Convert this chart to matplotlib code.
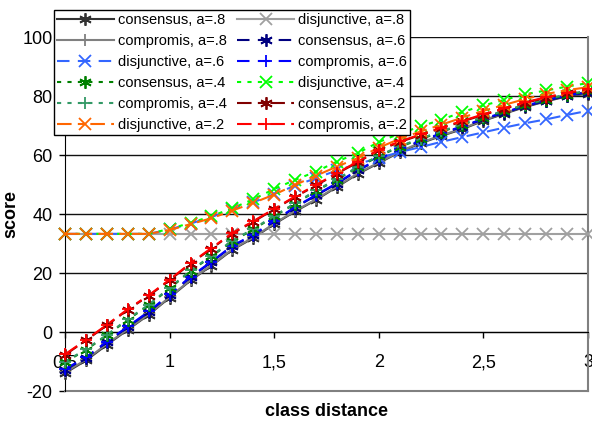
import numpy as np
import matplotlib.pyplot as plt

plt.rcParams['font.family'] = ['Liberation Sans', 'DejaVu Sans']
plt.rcParams['axes.unicode_minus'] = False

# class distance 0.5 .. 3.0
x = [0.5, 0.6, 0.7, 0.8, 0.9, 1.0, 1.1, 1.2, 1.3, 1.4, 1.5, 1.6, 1.7,
     1.8, 1.9, 2.0, 2.1, 2.2, 2.3, 2.4, 2.5, 2.6, 2.7, 2.8, 2.9, 3.0]

cons_8 = [-13.9, -9.6, -4.3, 0.8, 5.9, 11.7, 17.5, 22.5, 27.9, 31.9, 36.6, 40.9, 44.8,
          49.2, 53.6, 57.3, 61.0, 64.0, 66.5, 68.8, 71.6, 74.0, 76.3, 78.2, 79.9, 80.8]
disj_8 = [33.3] * 26
comp_8 = [-13.6, -9.3, -4.0, 1.0, 6.1, 11.9, 17.7, 22.7, 28.1, 32.1, 36.8, 41.1, 45.0,
          49.4, 53.8, 57.5, 61.2, 64.2, 66.7, 69.0, 71.8, 74.2, 76.5, 78.4, 80.1, 81.0]
cons_6 = [-12.8, -8.7, -3.4, 1.7, 6.8, 12.6, 18.6, 23.7, 29.1, 32.8, 37.6, 42.2, 46.3,
          50.3, 54.8, 58.4, 61.8, 64.7, 67.2, 69.6, 72.1, 74.3, 76.5, 78.4, 80.1, 81.2]
disj_6 = [33.3, 33.3, 33.3, 33.3, 33.3, 34.8, 36.8, 39.0, 41.6, 44.0, 46.8, 49.6, 52.2,
          54.8, 57.0, 59.0, 61.0, 62.7, 64.5, 66.1, 67.7, 69.3, 70.8, 72.1, 73.6, 75.0]
comp_6 = [-12.5, -8.5, -3.2, 1.9, 7.0, 12.8, 18.8, 23.9, 29.3, 33.0, 37.8, 42.4, 46.5,
          50.5, 55.0, 58.6, 62.0, 64.9, 67.4, 69.8, 72.3, 74.5, 76.7, 78.6, 80.3, 81.4]
cons_4 = [-10.2, -6.0, -1.1, 4.2, 9.1, 14.8, 20.7, 25.7, 30.8, 34.8, 39.2, 43.5, 47.8,
          51.7, 55.8, 59.6, 62.8, 65.4, 67.9, 70.3, 72.7, 74.8, 76.9, 78.7, 80.4, 81.6]
disj_4 = [33.3, 33.3, 33.3, 33.3, 33.3, 35.0, 37.0, 39.3, 42.0, 45.0, 48.5, 51.6, 54.4,
          57.8, 60.7, 64.4, 67.3, 69.7, 72.0, 74.6, 76.8, 78.7, 80.6, 81.9, 83.2, 84.4]
comp_4 = [-10.0, -5.8, -0.9, 4.4, 9.3, 15.0, 20.9, 25.9, 31.0, 35.0, 39.4, 43.7, 48.0,
          51.9, 56.0, 59.8, 63.0, 65.6, 68.1, 70.5, 72.9, 75.0, 77.1, 78.9, 80.6, 81.8]
cons_2 = [-7.7, -2.8, 2.3, 7.6, 12.3, 17.6, 23.2, 28.3, 33.4, 37.4, 41.6, 45.8, 49.7,
          53.7, 57.6, 61.6, 64.4, 66.8, 69.1, 71.4, 73.6, 75.7, 77.7, 79.4, 80.9, 82.2]
disj_2 = [33.3, 33.3, 33.3, 33.3, 33.3, 34.6, 36.6, 38.6, 41.2, 43.8, 46.6, 49.9, 53.0,
          56.1, 59.0, 62.5, 65.5, 68.0, 70.3, 72.7, 75.0, 77.0, 79.0, 80.7, 82.0, 83.0]
comp_2 = [-7.5, -2.6, 2.5, 7.8, 12.5, 17.8, 23.4, 28.5, 33.6, 37.6, 41.8, 46.0, 49.9,
          53.9, 57.8, 61.8, 64.6, 67.0, 69.3, 71.6, 73.8, 75.9, 77.9, 79.6, 81.1, 82.4]

labels = ['consensus, a=.8', 'disjunctive, a=.8', 'compromis, a=.8',
          'consensus, a=.6', 'disjunctive, a=.6', 'compromis, a=.6',
          'consensus, a=.4', 'disjunctive, a=.4', 'compromis, a=.4',
          'consensus, a=.2', 'disjunctive, a=.2', 'compromis, a=.2']
series = [cons_8, disj_8, comp_8, cons_6, disj_6, comp_6,
          cons_4, disj_4, comp_4, cons_2, disj_2, comp_2]
colors = ['#333333', '#a0a0a0', '#808080',
          '#000080', '#3366ff', '#0000ff',
          '#008000', '#00ff00', '#339966',
          '#800000', '#ff6600', '#ff0000']

xtick_vals = [0.5, 1, 1.5, 2, 2.5, 3]
xtick_labels = ['0,5', '1', '1,5', '2', '2,5', '3']
ytick_vals = [-20, 0, 20, 40, 60, 80, 100]

star = (6, 2, 0)
markers = [star, 'x', '+'] * 4
solid = '-'
dashed = (0, (6, 4))
dotted = (0, (2, 3))
dashdot = (0, (7, 3, 3, 3))
styles = [solid] * 3 + [dashed] * 3 + [dotted] * 3 + [dashdot] * 3
msizes = {star: 9, 'x': 9, '+': 9}

fig = plt.figure(figsize=(5.92, 4.21), dpi=100)
ax = fig.add_axes([0.110, 0.071, 0.883, 0.841])

handles = []
for y, lab, c, m, ls in zip(series, labels, colors, markers, styles):
    h, = ax.plot(x, y, color=c, marker=m, linestyle=ls, lw=1.5,
                 ms=msizes[m], mew=1.3, label=lab, clip_on=False, zorder=3)
    handles.append(h)

ax.set_xlim(0.5, 3)
ax.set_ylim(-20, 100)
ax.set_yticks(ytick_vals)
ax.set_xticks(xtick_vals)
ax.set_xticklabels(xtick_labels)
ax.tick_params(axis='both', labelsize=13, direction='out', length=4, width=1)
ax.tick_params(axis='x', pad=12)
ax.tick_params(axis='y', pad=5)

ax.yaxis.grid(True, color='#111111', lw=1.0)
ax.set_axisbelow(True)
ax.spines['bottom'].set_position(('data', 0))
ax.spines['bottom'].set_color('black')
ax.spines['left'].set_color('black')
ax.spines['top'].set_visible(False)
ax.spines['right'].set_color('#808080')
ax.spines['right'].set_linewidth(1.5)
ax.axhline(-20, color='#808080', lw=1.5, clip_on=False, zorder=1)

ax.set_xlabel('class distance', fontsize=13, fontweight='bold', labelpad=23)
ax.set_ylabel('score', fontsize=13, fontweight='bold', labelpad=2)

# row-wise legend order (matplotlib fills columns)
order = list(range(0, 12, 2)) + list(range(1, 12, 2))
leg = fig.legend([handles[i] for i in order], [labels[i] for i in order],
                 ncol=2, loc='upper left', bbox_to_anchor=(54 / 592, 1 - 10 / 421),
                 fontsize=10.5, handlelength=3.9, handletextpad=0.3,
                 columnspacing=0.7, labelspacing=0.48, borderpad=0.2,
                 borderaxespad=0, fancybox=False, framealpha=1,
                 edgecolor='black')
leg.get_frame().set_linewidth(1)

fig.savefig('out.png', dpi=100)
